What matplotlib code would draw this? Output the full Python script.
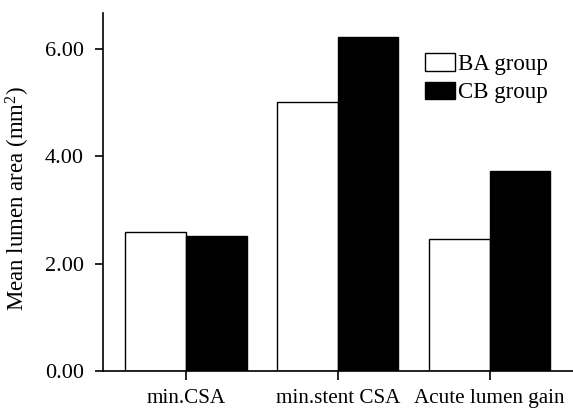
import matplotlib
matplotlib.use("Agg")
import matplotlib.pyplot as plt
import numpy as np

# Daten
categories = ["min.CSA", "min.stent CSA", "Acute lumen gain"]
ba_group = [2.58, 5.01, 2.45]
cb_group = [2.52, 6.22, 3.73]
series_labels = ["BA group", "CB group"]

plt.rcParams["font.family"] = ["Liberation Serif", "DejaVu Serif"]
plt.rcParams["mathtext.fontset"] = "custom"
plt.rcParams["mathtext.rm"] = "Liberation Serif"
plt.rcParams["mathtext.it"] = "Liberation Serif:italic"

fig = plt.figure(figsize=(5.73, 4.09), dpi=100)
ax = fig.add_axes([0.1803, 0.0936, 1 - 0.1803, 0.969 - 0.0936])

x = np.arange(len(categories))
w = 0.40
ax.bar(x - w / 2, ba_group, w, color="white", edgecolor="black", linewidth=1.0,
       label=series_labels[0])
ax.bar(x + w / 2, cb_group, w, color="black", edgecolor="black", linewidth=1.0,
       label=series_labels[1])

ax.set_xlim(-0.545, 2.55)
ax.set_ylim(0, 6.68)
ax.set_yticks([0, 2, 4, 6])
ax.set_yticklabels(["%.2f" % v for v in [0, 2, 4, 6]])
ax.set_xticks(x)
ax.set_xticklabels(categories)

for s in ["top", "right"]:
    ax.spines[s].set_visible(False)
for s in ["left", "bottom"]:
    ax.spines[s].set_linewidth(1.2)

ax.tick_params(axis="y", direction="out", length=6, width=1.2,
               labelsize=16, pad=8)
ax.tick_params(axis="x", direction="out", length=6.5, width=1.2,
               labelsize=15.2, pad=6.5)

ax.set_ylabel("Mean lumen area (mm$\\mathregular{^2}$)", fontsize=16.5)
ax.yaxis.set_label_coords(-0.152, 0.481)

ax.legend(loc="upper left", bbox_to_anchor=(425 / 573, 1 - 52.7 / 409),
          bbox_transform=fig.transFigure, frameon=False, fontsize=16.5,
          borderpad=0, borderaxespad=0, handlelength=1.31, handleheight=0.83,
          handletextpad=0.15, labelspacing=0.3)

fig.savefig("out.png", dpi=100)
